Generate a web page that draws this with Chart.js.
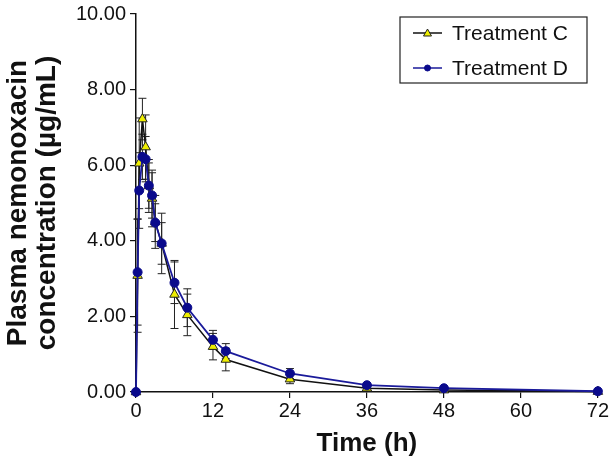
<!DOCTYPE html>
<html>
<head>
<meta charset="utf-8">
<script src="https://cdn.jsdelivr.net/npm/chart.js@4/dist/chart.umd.min.js"></script>
<style>
  html, body { margin: 0; padding: 0; background: #fff; }
  #wrap { width: 610px; height: 459px; position: relative; }
</style>
</head>
<body>
<div id="wrap"><canvas id="pk"></canvas></div>
<script>
// sampling times (h)
const times = [0, 0.25, 0.5, 1, 1.5, 2, 2.5, 3, 4, 6, 8, 12, 14, 24, 36, 48, 72];
// mean plasma concentration (ug/mL)
const treatmentC = [0, 3.08, 6.05, 7.22, 6.48, 5.45, 5.12, 4.5, 3.93, 2.58, 2.04, 1.2, 0.86, 0.34, 0.1, 0.05, 0.01];
const treatmentD = [0, 3.17, 5.33, 6.22, 6.16, 5.46, 5.2, 4.48, 3.93, 2.89, 2.23, 1.38, 1.08, 0.49, 0.18, 0.1, 0.02];
// standard deviations
const sdC = [0, 1.5, 1.2, 0.55, 0.85, 0.7, 0.75, 0.7, 0.8, 0.9, 0.55, 0.35, 0.3, 0.12, 0.05, 0.03, 0.01];
const sdD = [0, 1.4, 1.0, 0.6, 0.6, 0.6, 0.6, 0.5, 0.55, 0.55, 0.5, 0.25, 0.2, 0.13, 0.05, 0.03, 0.01];
const xTicks = [0, 12, 24, 36, 48, 60, 72];
const yTicks = [0, 2, 4, 6, 8, 10];
const seriesNames = ['Treatment C', 'Treatment D'];

const FONT = '"Liberation Sans", Arial, sans-serif';

const toPoints = (vals) => vals.map((v, i) => ({ x: times[i], y: v }));

// error bars drawn behind the markers
const errorBars = {
  id: 'errorBars',
  beforeDatasetsDraw(chart) {
    const { ctx, scales: { x, y } } = chart;
    const sds = [sdC, sdD];
    ctx.save();
    ctx.strokeStyle = '#222';
    ctx.lineWidth = 1;
    chart.data.datasets.forEach((ds, di) => {
      ds.data.forEach((p, i) => {
        const sd = sds[di][i];
        if (!sd) return;
        const px = x.getPixelForValue(p.x);
        const top = y.getPixelForValue(p.y + sd);
        const bot = y.getPixelForValue(Math.max(p.y - sd, 0));
        ctx.beginPath();
        ctx.moveTo(px, top); ctx.lineTo(px, bot);
        ctx.moveTo(px - 4, top); ctx.lineTo(px + 4, top);
        ctx.moveTo(px - 4, bot); ctx.lineTo(px + 4, bot);
        ctx.stroke();
      });
    });
    ctx.restore();
  }
};

// boxed legend with line + marker samples
const boxLegend = {
  id: 'boxLegend',
  afterDraw(chart) {
    const { ctx } = chart;
    const left = 400, top = 17, w = 187, h = 66;
    ctx.save();
    ctx.fillStyle = '#fff';
    ctx.fillRect(left, top, w, h);
    ctx.strokeStyle = '#222';
    ctx.lineWidth = 1.2;
    ctx.strokeRect(left, top, w, h);
    ctx.font = '21px ' + FONT;
    ctx.textBaseline = 'middle';
    chart.data.datasets.forEach((ds, i) => {
      const cy = top + 16 + i * 35;
      ctx.strokeStyle = ds.borderColor;
      ctx.lineWidth = 1.5;
      ctx.beginPath();
      ctx.moveTo(413, cy); ctx.lineTo(442, cy);
      ctx.stroke();
      ctx.fillStyle = ds.pointBackgroundColor;
      ctx.strokeStyle = ds.pointBorderColor;
      ctx.lineWidth = 1;
      ctx.beginPath();
      if (i === 0) {
        ctx.moveTo(427.5, cy - 4); ctx.lineTo(431.5, cy + 3); ctx.lineTo(423.5, cy + 3); ctx.closePath();
      } else {
        ctx.arc(427.5, cy, 3, 0, Math.PI * 2);
      }
      ctx.fill(); ctx.stroke();
      ctx.fillStyle = '#111';
      ctx.fillText(ds.label, 452, cy + 1);
    });
    ctx.restore();
  }
};

new Chart(document.getElementById('pk'), {
  type: 'line',
  data: {
    datasets: [
      {
        label: seriesNames[0],
        data: toPoints(treatmentC),
        order: 2,
        clip: false,
        borderColor: '#111',
        borderWidth: 1.5,
        pointStyle: 'triangle',
        pointRadius: 5.5,
        pointBackgroundColor: '#eeee00',
        pointBorderColor: '#222',
        pointBorderWidth: 1,
        tension: 0
      },
      {
        label: seriesNames[1],
        data: toPoints(treatmentD),
        order: 1,
        clip: false,
        borderColor: '#1a1a9a',
        borderWidth: 1.8,
        pointStyle: 'circle',
        pointRadius: 4.5,
        pointBackgroundColor: '#0a0a8c',
        pointBorderColor: '#0a0a8c',
        pointBorderWidth: 1,
        tension: 0
      }
    ]
  },
  options: {
    responsive: true,
    maintainAspectRatio: false,
    animation: false,
    layout: { padding: { left: 0, right: 12, top: 0, bottom: 0 } },
    plugins: { legend: { display: false }, tooltip: { enabled: false } },
    scales: {
      x: {
        type: 'linear',
        min: 0, max: 72,
        afterBuildTicks: (s) => { s.ticks = xTicks.map(v => ({ value: v })); },
        afterFit: (s) => { s.height = 67; },
        grid: { drawOnChartArea: false, drawTicks: true, tickLength: 6, color: '#111', lineWidth: 1.2 },
        border: { color: '#111', width: 1.5 },
        ticks: { color: '#111', font: { family: FONT, size: 20 }, padding: 1, maxRotation: 0 },
        title: { display: true, text: 'Time (h)', color: '#111', font: { family: FONT, size: 26, weight: 'bold', lineHeight: 1.2 }, padding: { top: 0, bottom: 0 } }
      },
      y: {
        min: 0, max: 10,
        afterBuildTicks: (s) => { s.ticks = yTicks.map(v => ({ value: v })); },
        afterFit: (s) => { s.width = 136; },
        grid: { drawOnChartArea: false, drawTicks: true, tickLength: 6, color: '#111', lineWidth: 1.2 },
        border: { color: '#111', width: 1.5 },
        ticks: { color: '#111', font: { family: FONT, size: 20, lineHeight: 1 }, padding: 4, callback: (v) => v.toFixed(2) },
        title: { display: true, text: ['Plasma nemonoxacin', 'concentration (\u00b5g/mL)'], color: '#111', font: { family: FONT, size: 28, weight: 'bold', lineHeight: 1.04 }, padding: { bottom: 2 } }
      }
    }
  },
  plugins: [errorBars, boxLegend]
});
</script>
</body>
</html>
